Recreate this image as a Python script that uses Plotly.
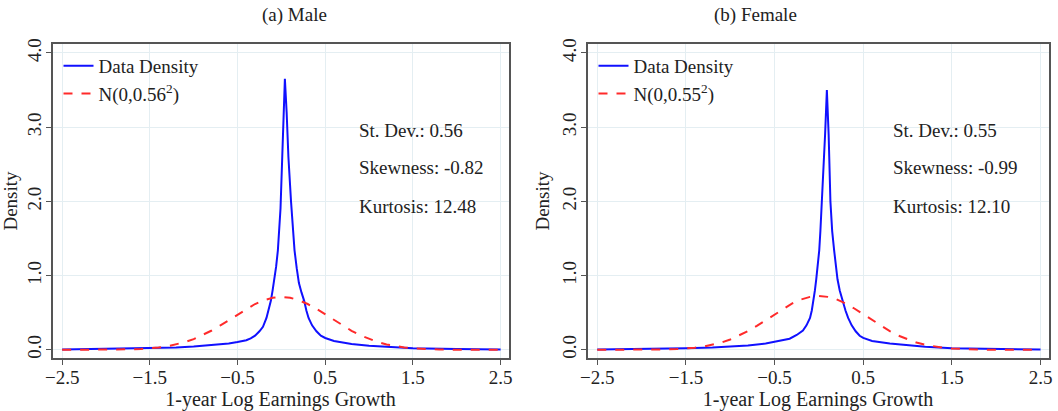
import plotly.graph_objects as go

# growth grid for the normal curves
x_norm = [-2.5, -2.4, -2.3, -2.2, -2.1, -2.0, -1.9, -1.8, -1.7, -1.6, -1.5, -1.4, -1.3, -1.2, -1.1,
          -1.0, -0.9, -0.8, -0.7, -0.6, -0.5, -0.4, -0.3, -0.2, -0.1, 0.0,
          0.1, 0.2, 0.3, 0.4, 0.5, 0.6, 0.7, 0.8, 0.9, 1.0, 1.1, 1.2, 1.3, 1.4, 1.5,
          1.6, 1.7, 1.8, 1.9, 2.0, 2.1, 2.2, 2.3, 2.4, 2.5]

half_male = [0.7124, 0.7012, 0.6684, 0.6172, 0.5520, 0.4782, 0.4013, 0.3261, 0.2568, 0.1958,
             0.1446, 0.1035, 0.0717, 0.0482, 0.0313, 0.0197, 0.0120, 0.0071, 0.0041, 0.0023,
             0.0012, 0.0006, 0.0003, 0.0001, 0.0001, 0.0]
half_female = [0.7254, 0.7135, 0.6790, 0.6251, 0.5568, 0.4799, 0.4001, 0.3227, 0.2519, 0.1902,
               0.1389, 0.0982, 0.0672, 0.0444, 0.0284, 0.0176, 0.0105, 0.0061, 0.0034, 0.0019,
               0.0010, 0.0005, 0.0002, 0.0001, 0.0, 0.0]
norm_male = half_male[::-1] + half_male[1:]
norm_female = half_female[::-1] + half_female[1:]

# data density, male
x_male = [-2.5, -2.0, -1.5, -1.2, -1.0, -0.8, -0.6, -0.5, -0.4, -0.35, -0.3, -0.25, -0.21, -0.17,
          -0.145, -0.12, -0.1, -0.08, -0.06, -0.04, -0.025, -0.01, 0.01, 0.025, 0.04, 0.06, 0.08,
          0.11, 0.13, 0.15, 0.175, 0.2, 0.23, 0.26, 0.285, 0.31, 0.35, 0.4, 0.45,
          0.5, 0.6, 0.8, 1.0, 1.2, 1.5, 2.0, 2.5]
y_male = [0.005, 0.012, 0.022, 0.033, 0.045, 0.06, 0.085, 0.105, 0.13, 0.155, 0.19, 0.25, 0.31, 0.43,
          0.53, 0.66, 0.8, 0.95, 1.12, 1.34, 1.6, 1.9, 2.6, 3.2, 3.65, 3.2, 2.6,
          2.0, 1.6, 1.34, 1.1, 0.9, 0.77, 0.66, 0.53, 0.43, 0.33, 0.25, 0.19,
          0.16, 0.12, 0.08, 0.055, 0.04, 0.022, 0.01, 0.004]

# data density, female
x_female = [-2.5, -2.0, -1.5, -1.2, -1.0, -0.8, -0.6, -0.5, -0.4, -0.33, -0.25, -0.18, -0.14, -0.1,
            -0.08, -0.06, -0.045, -0.03, -0.013, 0.004, 0.017, 0.03, 0.05, 0.07, 0.09, 0.11, 0.13,
            0.15, 0.172, 0.19, 0.21, 0.235, 0.266, 0.3, 0.33, 0.37, 0.415, 0.46,
            0.5, 0.6, 0.8, 1.0, 1.2, 1.5, 2.0, 2.5]
y_female = [0.004, 0.01, 0.022, 0.032, 0.042, 0.058, 0.085, 0.11, 0.13, 0.15, 0.2, 0.26, 0.33, 0.43,
            0.53, 0.66, 0.8, 0.95, 1.12, 1.34, 1.6, 1.9, 2.3, 2.9, 3.5, 2.9, 2.0,
            1.6, 1.34, 1.12, 0.95, 0.8, 0.66, 0.53, 0.43, 0.33, 0.25, 0.19,
            0.16, 0.12, 0.085, 0.06, 0.042, 0.022, 0.01, 0.004]

panel_titles = ["(a) Male", "(b) Female"]
norm_names = ["N(0,0.56<sup>2</sup>)", "N(0,0.55<sup>2</sup>)"]
stats_male = ["St. Dev.: 0.56", "Skewness: -0.82", "Kurtosis: 12.48"]
stats_female = ["St. Dev.: 0.55", "Skewness: -0.99", "Kurtosis: 12.10"]
x_ticks = [-2.5, -1.5, -0.5, 0.5, 1.5, 2.5]
y_ticks = [0, 1, 2, 3, 4]

W, H = 1058, 411
FONT = "Liberation Serif"
fig = go.Figure()

panels = [
    dict(xd=[x_male, x_norm], yd=[y_male, norm_male], xa="x", ya="y", leg="legend",
         dom=[52.5, 508.5], stats=stats_male, sx=357, tx=260),
    dict(xd=[x_female, x_norm], yd=[y_female, norm_female], xa="x2", ya="y2", leg="legend2",
         dom=[587.5, 1048.5], stats=stats_female, sx=891, tx=799),
]

for i, p in enumerate(panels):
    fig.add_trace(go.Scatter(x=p["xd"][0], y=p["yd"][0], mode="lines", name="Data Density",
                             line=dict(color="#1010ff", width=2), xaxis=p["xa"], yaxis=p["ya"],
                             legend=p["leg"]))
    fig.add_trace(go.Scatter(x=p["xd"][1], y=p["yd"][1], mode="lines", name=norm_names[i],
                             line=dict(color="#ff2a2a", width=2, dash="dash"),
                             xaxis=p["xa"], yaxis=p["ya"], legend=p["leg"]))

axis_common = dict(showline=True, linecolor="#555555", linewidth=1.5, mirror=True,
                   ticks="outside", ticklen=5, tickcolor="#555555", automargin=False,
                   showgrid=True, gridcolor="#e4eef2", gridwidth=1, zeroline=False,
                   tickfont=dict(family=FONT, size=19, color="#222222"))
ydom = [1 - 358 / H, 1 - 44 / H]

layout = dict(width=W, height=H, margin=dict(l=0, r=0, t=0, b=0, autoexpand=False),
              paper_bgcolor="white", plot_bgcolor="white",
              font=dict(family=FONT, size=19, color="#222222"))
for i, p in enumerate(panels):
    sfx = "" if i == 0 else "2"
    layout["xaxis" + sfx] = dict(axis_common, domain=[p["dom"][0] / W, p["dom"][1] / W],
                                 range=[-2.61, 2.59], tickvals=x_ticks, tickformat=".1f",
                                 anchor="y" + sfx, ticklabelstandoff=-4,
                                 title=dict(text="1-year Log Earnings Growth", standoff=5,
                                            font=dict(family=FONT, size=20)))
    layout["yaxis" + sfx] = dict(axis_common, domain=ydom, range=[-0.11, 4.12], tickvals=y_ticks,
                                 tickformat=".1f", tickangle=-90, anchor="x" + sfx,
                                 ticklabelstandoff=-3,
                                 title=dict(text="Density", standoff=5,
                                            font=dict(family=FONT, size=19)))
    layout["legend" + sfx] = dict(x=(p["dom"][0] + 6) / W, y=1 - 47 / H, xanchor="left",
                                  yanchor="top", bgcolor="rgba(0,0,0,0)", itemwidth=30,
                                  tracegroupgap=0, font=dict(family=FONT, size=19))
fig.update_layout(**layout)

for i, p in enumerate(panels):
    fig.add_annotation(text=panel_titles[i], x=p["tx"] / W, y=1 - 15 / H, xref="paper",
                       yref="paper", yanchor="middle", showarrow=False,
                       font=dict(family=FONT, size=19))
    for j, s in enumerate(p["stats"]):
        fig.add_annotation(text=s, x=p["sx"] / W, y=1 - (130 + 38 * j) / H, xref="paper",
                           yref="paper", xanchor="left", yanchor="middle", showarrow=False,
                           font=dict(family=FONT, size=19))

# page has a default body margin that would push the figure out of the window
fig.write_html("out.html", config={"displayModeBar": False},
               post_script="document.body.style.margin='0';")
